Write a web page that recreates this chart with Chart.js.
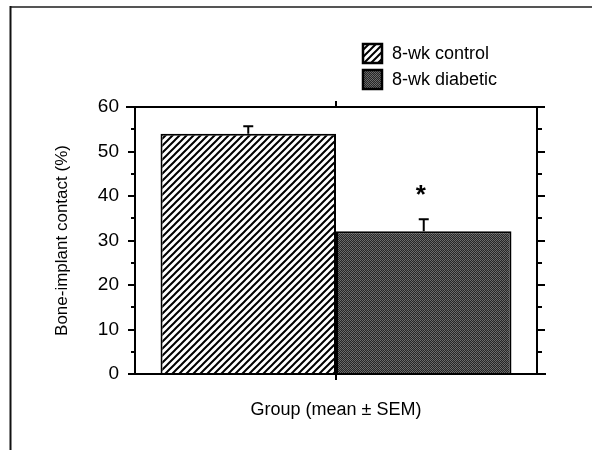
<!DOCTYPE html>
<html>
<head>
<meta charset="utf-8">
<script src="https://cdn.jsdelivr.net/npm/chart.js@4"></script>
<style>
html, body { margin: 0; padding: 0; background: #fff; }
</style>
</head>
<body>
<canvas id="myChart" width="592" height="450"></canvas>
<script>
let grupos = ['8-wk control', '8-wk diabetic'];
let media = [54, 32.1];
let sem = [1.7, 2.7];
let marca = ['', '*'];
let yMin = 0;
let yMax = 60;
let yPaso = 10;
let yMenor = 5;

const fuente = "'Liberation Sans', Arial, Helvetica, sans-serif";

function rayado() {
    const c = document.createElement('canvas');
    c.width = 7; c.height = 7;
    const g = c.getContext('2d');
    g.fillStyle = '#fff';
    g.fillRect(0, 0, 7, 7);
    g.strokeStyle = '#000';
    g.lineWidth = 2;
    g.beginPath();
    g.moveTo(-1, 8); g.lineTo(8, -1);
    g.moveTo(-1, 1); g.lineTo(1, -1);
    g.moveTo(6, 8); g.lineTo(8, 6);
    g.stroke();
    return g.createPattern(c, 'repeat');
}

function punteado() {
    const c = document.createElement('canvas');
    c.width = 4; c.height = 4;
    const g = c.getContext('2d');
    for (let x = 0; x < 4; x++) {
        for (let y = 0; y < 4; y++) {
            g.fillStyle = (x + y) % 2 ? '#262626' : ((x * y) % 3 ? '#5c5c5c' : '#6c6c6c');
            g.fillRect(x, y, 1, 1);
        }
    }
    return g.createPattern(c, 'repeat');
}

let rellenos = [rayado(), punteado()];

const adornos = {
    id: 'adornos',
    beforeDraw(chart) {
        const ctx = chart.ctx;
        ctx.save();
        ctx.fillStyle = '#fff';
        ctx.fillRect(0, 0, chart.width, chart.height);
        ctx.strokeStyle = '#555';
        ctx.lineWidth = 2;
        ctx.beginPath();
        ctx.moveTo(10, 7); ctx.lineTo(592, 7);
        ctx.stroke();
        ctx.strokeStyle = '#111';
        ctx.beginPath();
        ctx.moveTo(10.5, 6); ctx.lineTo(10.5, 450);
        ctx.stroke();
        ctx.restore();
    },
    afterDatasetsDraw(chart) {
        const ctx = chart.ctx;
        const y = chart.scales.y;
        ctx.save();
        ctx.strokeStyle = '#000';
        ctx.lineWidth = 2;
        chart.data.datasets.forEach((ds, i) => {
            const bar = chart.getDatasetMeta(i).data[0];
            const top = y.getPixelForValue(media[i] + sem[i]);
            ctx.beginPath();
            ctx.moveTo(bar.x, bar.y);
            ctx.lineTo(bar.x, top);
            ctx.moveTo(bar.x - 5, top);
            ctx.lineTo(bar.x + 5, top);
            ctx.stroke();
            if (marca[i]) {
                ctx.fillStyle = '#000';
                ctx.font = 'bold 26px ' + fuente;
                ctx.textAlign = 'center';
                ctx.textBaseline = 'alphabetic';
                ctx.fillText(marca[i], bar.x - 3, top - 16);
            }
        });
        ctx.restore();
    },
    afterDraw(chart) {
        const ctx = chart.ctx;
        const a = chart.chartArea;
        const y = chart.scales.y;
        const xc = chart.scales.x.getPixelForValue(0);
        ctx.save();
        ctx.strokeStyle = '#000';
        ctx.lineWidth = 2;
        ctx.beginPath();
        // marco del grafico
        ctx.moveTo(a.left - 9, a.top); ctx.lineTo(a.right + 8, a.top);
        ctx.moveTo(a.left - 7, a.bottom); ctx.lineTo(a.right + 9, a.bottom);
        ctx.moveTo(xc, a.top); ctx.lineTo(xc, a.top - 6);
        ctx.moveTo(xc, a.bottom); ctx.lineTo(xc, a.bottom + 6);
        for (let v = yMin; v <= yMax; v += yMenor) {
            const py = Math.round(y.getPixelForValue(v));
            const mayor = v % yPaso === 0;
            ctx.moveTo(a.left, py); ctx.lineTo(a.left - (mayor ? 7 : 4), py);
            ctx.moveTo(a.right, py); ctx.lineTo(a.right + (mayor ? 8 : 5), py);
        }
        ctx.stroke();

        // leyenda
        ctx.font = '18px ' + fuente;
        ctx.textAlign = 'left';
        ctx.textBaseline = 'middle';
        ctx.lineWidth = 2.5;
        chart.data.datasets.forEach((ds, i) => {
            const bx = 363, by = 44 + i * 26;
            ctx.fillStyle = ds.backgroundColor;
            ctx.fillRect(bx, by, 19, 19);
            ctx.strokeRect(bx, by, 19, 19);
            ctx.fillStyle = '#000';
            ctx.fillText(ds.label, 392, by + 10);
        });
        ctx.restore();
    }
};

let context = document.getElementById('myChart').getContext('2d');
let chart = new Chart(context, {
    type: 'bar',
    data: {
        labels: [''],
        datasets: grupos.map((g, i) => ({
            label: g,
            data: [media[i]],
            backgroundColor: rellenos[i],
            borderColor: '#000',
            borderWidth: 2,
            borderSkipped: 'start',
            yAxisID: 'y'
        }))
    },
    options: {
        responsive: false,
        animation: false,
        layout: { padding: { left: 48, right: 0, top: 107, bottom: 25 } },
        datasets: { bar: { categoryPercentage: 0.873, barPercentage: 1 } },
        plugins: { legend: { display: false }, tooltip: { enabled: false } },
        scales: {
            x: {
                grid: { display: false, drawTicks: false },
                border: { display: true, color: '#000', width: 2 },
                ticks: { display: false },
                title: { display: true, text: 'Group (mean ± SEM)', color: '#000', font: { family: fuente, size: 18 } },
                afterFit(s) { s.height = 51; }
            },
            y: {
                min: yMin,
                max: yMax,
                ticks: { stepSize: yPaso, color: '#000', font: { family: fuente, size: 19 }, padding: 16 },
                grid: { display: false, drawTicks: false },
                border: { display: true, color: '#000', width: 2 },
                title: { display: true, text: 'Bone-implant contact (%)', color: '#000', font: { family: fuente, size: 17 } },
                afterFit(s) { s.width = 87; }
            },
            y2: {
                position: 'right',
                min: yMin,
                max: yMax,
                ticks: { display: false },
                grid: { display: false, drawTicks: false },
                border: { display: true, color: '#000', width: 2 },
                afterFit(s) { s.width = 55; }
            }
        }
    },
    plugins: [adornos]
});
</script>
</body>
</html>
